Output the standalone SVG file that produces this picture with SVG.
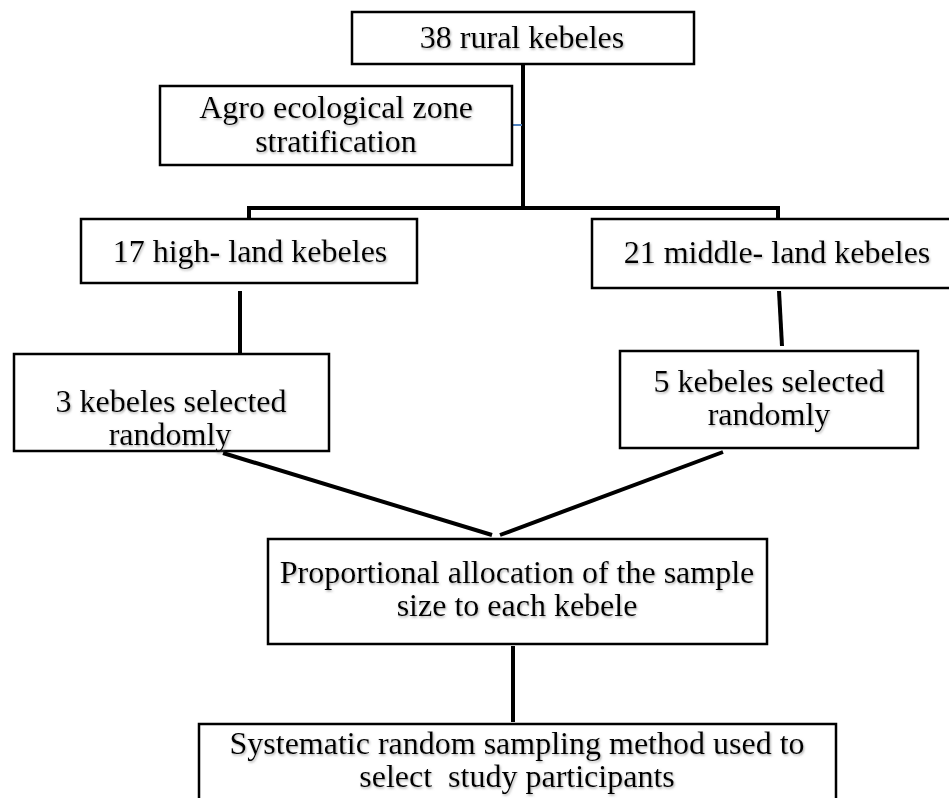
<svg xmlns="http://www.w3.org/2000/svg" width="949" height="798" viewBox="0 0 949 798">
  <defs>
    <filter id="sh" x="-5%" y="-20%" width="110%" height="140%">
      <feDropShadow dx="1" dy="1.5" stdDeviation="0.8" flood-color="#777" flood-opacity="0.6"/>
    </filter>
  </defs>
  <style>
    .box { fill: #fff; stroke: #000; stroke-width: 2.5; }
    .lbl { font-family: "Liberation Serif", "Times New Roman", serif; font-size: 32px; fill: #000; text-anchor: middle; filter: url(#sh); white-space: pre; }
    .conn { fill: none; stroke: #000; stroke-width: 4; stroke-linejoin: miter; }
    .tick { fill: none; stroke: #4f81bd; stroke-width: 2; }
  </style>
  <rect width="949" height="798" fill="#fff"/>

  <g id="connectors">
    <path class="conn" d="M523,64 V208"/>
    <path class="conn" d="M249,219 V208 H778 V219"/>
    <path class="conn" d="M240,291 V353"/>
    <path class="conn" d="M779,291 L782,346"/>
    <path class="conn" d="M223,453 L492,535"/>
    <path class="conn" d="M723,452 L500,535"/>
    <path class="conn" d="M513,646 V722"/>
    <path class="tick" d="M513,125 H522"/>
  </g>

  <g id="rural">
    <rect class="box" x="352" y="12" width="342" height="52"/>
    <text class="lbl" x="522" y="48">38 rural kebeles</text>
  </g>

  <g id="agro">
    <rect class="box" x="160" y="86" width="352" height="79"/>
    <text class="lbl" x="336" y="118">Agro ecological zone</text>
    <text class="lbl" x="336" y="152">stratification</text>
  </g>

  <g id="highland">
    <rect class="box" x="81" y="219" width="336" height="64"/>
    <text class="lbl" x="250" y="262">17 high- land kebeles</text>
  </g>

  <g id="middleland">
    <rect class="box" x="592" y="219" width="362" height="69"/>
    <text class="lbl" x="777" y="263">21 middle- land kebeles</text>
  </g>

  <g id="sel3">
    <rect class="box" x="14" y="354" width="315" height="97"/>
    <text class="lbl" x="171" y="412">3 kebeles selected</text>
    <text class="lbl" x="170" y="445">randomly</text>
  </g>

  <g id="sel5">
    <rect class="box" x="620" y="351" width="298" height="97"/>
    <text class="lbl" x="769" y="392">5 kebeles selected</text>
    <text class="lbl" x="769" y="425">randomly</text>
  </g>

  <g id="proportional">
    <rect class="box" x="268" y="539" width="499" height="105"/>
    <text class="lbl" x="517" y="583">Proportional allocation of the sample</text>
    <text class="lbl" x="517" y="616">size to each kebele</text>
  </g>

  <g id="systematic">
    <rect class="box" x="199" y="724" width="637" height="90"/>
    <text class="lbl" x="517" y="754">Systematic random sampling method used to</text>
    <text class="lbl" x="517" y="787">select  study participants</text>
  </g>
</svg>
